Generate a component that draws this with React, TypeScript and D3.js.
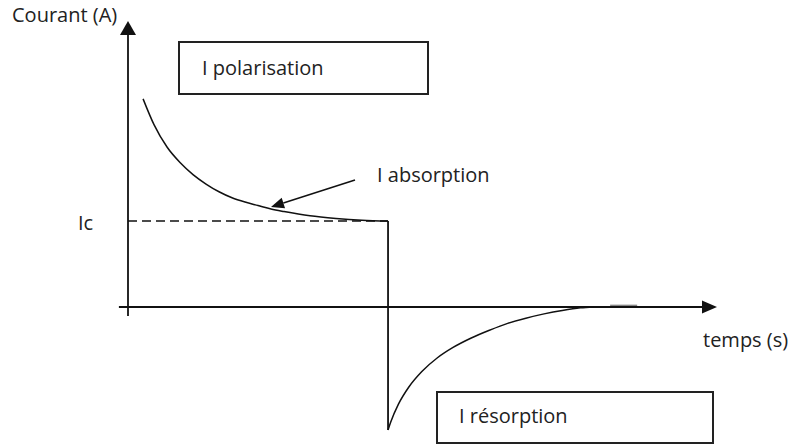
import React from "react";
import * as d3 from "d3";

// Absorption current (charging), t in arbitrary time units, I in units of Ic
const absorptionT = [0.58, 1.0, 1.5, 2.0, 2.5, 3.0, 3.5, 4.0, 4.5, 5.0, 5.5, 6.0, 7.0, 8.0, 9.0, 10.0];
const absorptionI = [2.42, 2.12, 1.86, 1.68, 1.54, 1.43, 1.34, 1.27, 1.22, 1.18, 1.14, 1.11, 1.06, 1.03, 1.01, 1.0];

// Resorption current (discharge)
const resorptionT = [10.0, 10.1, 10.4, 10.8, 11.3, 11.9, 12.5, 13.2, 13.9, 14.6, 15.3, 16.0, 16.7, 17.4, 17.9];
const resorptionI = [-1.43, -1.34, -1.13, -0.93, -0.75, -0.59, -0.47, -0.36, -0.27, -0.19, -0.13, -0.08, -0.04, -0.01, 0.0];

// short trailing stroke just above the axis
const tailT = [18.54, 19.58];
const tailI = [0.02, 0.02];

const icLevel = 1.0;
const stepTime = 10.0;

const axisLabels = { y: "Courant (A)", x: "temps (s)", ic: "Ic" };
const boxLabels = ["I polarisation", "I résorption"];
const arrowLabel = "I absorption";

const W = 796;
const H = 446;

export default function App() {
  const x = d3.scaleLinear().domain([0, 22.65]).range([128, 717]);
  const y = d3.scaleLinear().domain([0, 1]).range([307, 221]);

  const line = d3
    .line<[number, number]>()
    .x((d) => x(d[0]))
    .y((d) => y(d[1]))
    .curve(d3.curveMonotoneX);
  const straight = d3
    .line<[number, number]>()
    .x((d) => x(d[0]))
    .y((d) => y(d[1]));

  const absPts = absorptionT.map((t, i) => [t, absorptionI[i]] as [number, number]);
  const resPts = resorptionT.map((t, i) => [t, resorptionI[i]] as [number, number]);
  const tailPts = tailT.map((t, i) => [t, tailI[i]] as [number, number]);

  const x0 = x(0);
  const y0 = y(0);
  const yTop = 21;
  const xEnd = x(22.65);
  const font = "'Open Sans', 'Noto Sans', sans-serif";
  const txt = "#222";

  // annotation arrow
  const ax1 = 355, ay1 = 180, ax2 = 271, ay2 = 207;
  const ang = Math.atan2(ay2 - ay1, ax2 - ax1);
  const hl = 13, hw = 5.5;
  const bx = ax2 - hl * Math.cos(ang);
  const by = ay2 - hl * Math.sin(ang);
  const px = -Math.sin(ang) * hw;
  const py = Math.cos(ang) * hw;

  return (
    <svg
      width={W}
      height={H}
      style={{ position: "absolute", left: 0, top: 0, background: "#fff" }}
      fontFamily={font}
    >
      <rect x={0} y={0} width={W} height={H} fill="#fff" />

      {/* Y axis */}
      <line x1={x0} y1={y(-0.105)} x2={x0} y2={yTop + 12} stroke="#111" strokeWidth={1.8} />
      <polygon points={`${x0},${yTop} ${x0 - 8},${yTop + 14} ${x0 + 8},${yTop + 14}`} fill="#111" />

      {/* X axis */}
      <line x1={x(-0.35)} y1={y0} x2={xEnd - 13} y2={y0} stroke="#111" strokeWidth={1.8} />
      <polygon points={`${xEnd},${y0} ${xEnd - 15},${y0 - 6.5} ${xEnd - 15},${y0 + 6.5}`} fill="#111" />

      {/* Ic dashed line */}
      <path
        d={straight([[0, icLevel], [stepTime, icLevel]]) || ""}
        stroke="#111"
        strokeWidth={1.6}
        strokeDasharray="9,5"
        fill="none"
      />

      {/* absorption curve */}
      <path d={line(absPts) || ""} stroke="#111" strokeWidth={1.5} fill="none" />

      {/* step */}
      <path
        d={straight([[stepTime, icLevel], [stepTime, resorptionI[0]]]) || ""}
        stroke="#111"
        strokeWidth={1.8}
        fill="none"
      />

      {/* resorption curve */}
      <path d={line(resPts) || ""} stroke="#111" strokeWidth={1.5} fill="none" />
      <path d={straight(tailPts) || ""} stroke="#777" strokeWidth={1.2} fill="none" />

      {/* annotation arrow */}
      <line x1={ax1} y1={ay1} x2={bx} y2={by} stroke="#111" strokeWidth={1.5} />
      <polygon points={`${ax2},${ay2} ${bx + px},${by + py} ${bx - px},${by - py}`} fill="#111" />

      {/* boxes */}
      <rect x={179} y={42} width={249} height={52} fill="none" stroke="#222" strokeWidth={2} />
      <rect x={437} y={392} width={276} height={51} fill="none" stroke="#222" strokeWidth={2} />

      {/* texts */}
      <text x={12} y={22} fontSize={20} fill={txt}>{axisLabels.y}</text>
      <text x={703} y={347} fontSize={20} fill={txt}>{axisLabels.x}</text>
      <text x={78} y={230} fontSize={20} fill={txt}>{axisLabels.ic}</text>
      <text x={202} y={75} fontSize={20} fill={txt}>{boxLabels[0]}</text>
      <text x={459} y={423} fontSize={20} fill={txt}>{boxLabels[1]}</text>
      <text x={377} y={182} fontSize={20} fill={txt}>{arrowLabel}</text>
    </svg>
  );
}
